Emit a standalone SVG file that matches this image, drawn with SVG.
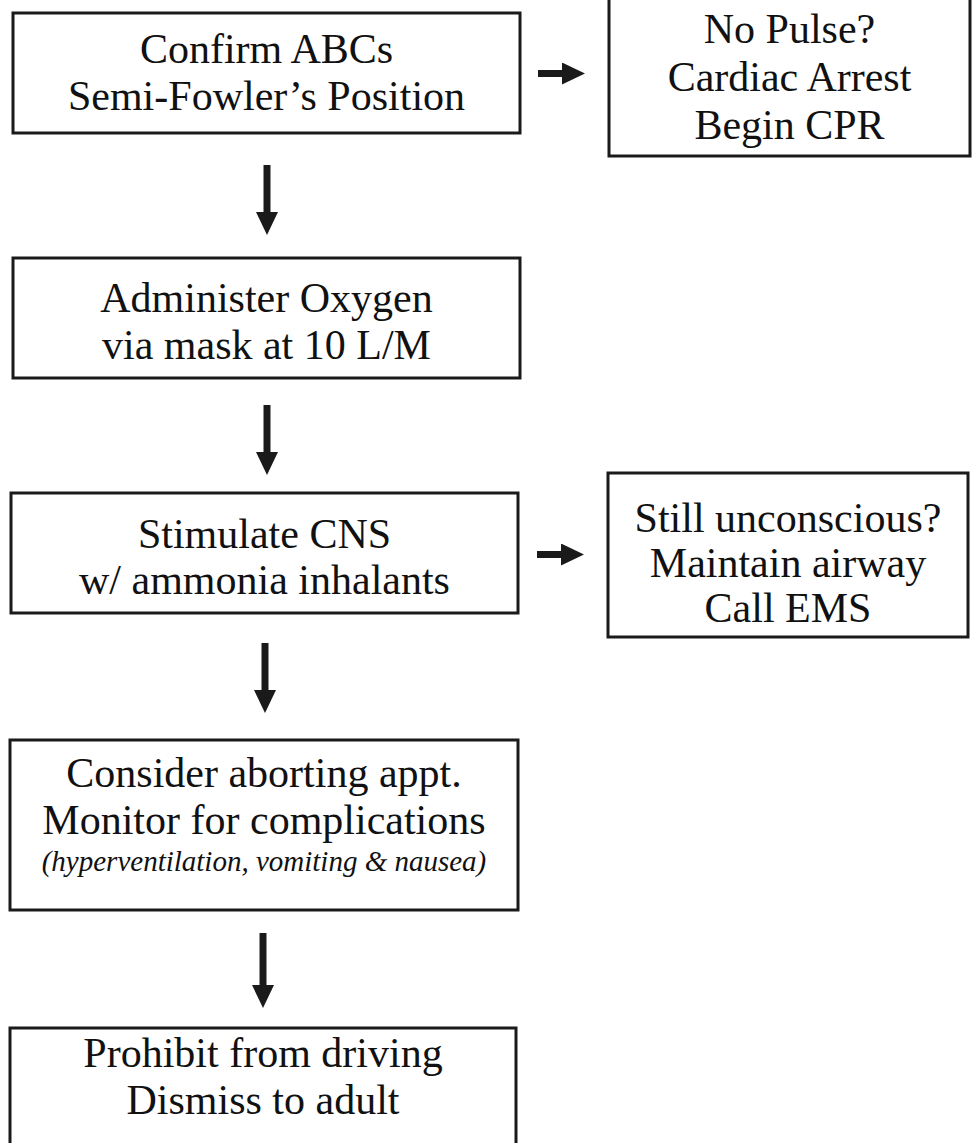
<svg xmlns="http://www.w3.org/2000/svg" width="974" height="1143" viewBox="0 0 974 1143">
<style>
.box{fill:#fff;stroke:#1a1a1a;stroke-width:3}
.t{font-family:'Liberation Serif',Tinos,'Times New Roman',Times,'DejaVu Serif',serif;font-size:42px;fill:#111;text-anchor:middle}
.it{font-family:'Liberation Serif',Tinos,'Times New Roman',Times,'DejaVu Serif',serif;font-size:29px;font-style:italic;fill:#111;text-anchor:middle}
.arr{stroke:#1a1a1a;stroke-width:7;fill:none;marker-end:url(#ah)}
</style>
<defs>
<marker id="ah" markerUnits="userSpaceOnUse" markerWidth="24" markerHeight="24" refX="3" refY="11" orient="auto">
<path d="M0,0 L23,11 L0,22 Z" fill="#1a1a1a"/>
</marker>
</defs>
<rect width="974" height="1143" fill="#fff"/>
<g id="n1">
<rect class="box" x="13" y="13" width="507" height="120"/>
<text class="t" x="266.5" y="63" font-family="Liberation Serif, serif">Confirm ABCs</text>
<text class="t" x="266.5" y="110" font-family="Liberation Serif, serif">Semi-Fowler’s Position</text>
</g>
<g id="n2">
<rect class="box" x="609" y="-3" width="361" height="159"/>
<text class="t" x="789.5" y="43">No Pulse?</text>
<text class="t" x="789.5" y="91">Cardiac Arrest</text>
<text class="t" x="789.5" y="139">Begin CPR</text>
</g>
<g id="n3">
<rect class="box" x="13" y="258" width="507" height="120"/>
<text class="t" x="266.5" y="312">Administer Oxygen</text>
<text class="t" x="266.5" y="359">via mask at 10 L/M</text>
</g>
<g id="n4">
<rect class="box" x="11" y="493" width="507" height="120"/>
<text class="t" x="264.5" y="548">Stimulate CNS</text>
<text class="t" x="264.5" y="594">w/ ammonia inhalants</text>
</g>
<g id="n5">
<rect class="box" x="608" y="473" width="360" height="164"/>
<text class="t" x="788" y="532">Still unconscious?</text>
<text class="t" x="788" y="577">Maintain airway</text>
<text class="t" x="788" y="622">Call EMS</text>
</g>
<g id="n6">
<rect class="box" x="10" y="740" width="508" height="170"/>
<text class="t" x="264" y="787">Consider aborting appt.</text>
<text class="t" x="264" y="834">Monitor for complications</text>
<text class="it" x="264" y="871">(hyperventilation, vomiting &amp; nausea)</text>
</g>
<g id="n7">
<rect class="box" x="10" y="1028" width="506" height="130"/>
<text class="t" x="263" y="1067">Prohibit from driving</text>
<text class="t" x="263" y="1114">Dismiss to adult</text>
</g>
<g id="connectors">
<line class="arr" x1="267" y1="165" x2="267" y2="215"/>
<line class="arr" x1="267" y1="405" x2="267" y2="455"/>
<line class="arr" x1="265" y1="643" x2="265" y2="693"/>
<line class="arr" x1="263" y1="933" x2="263" y2="988"/>
<line class="arr" x1="538" y1="73.5" x2="565" y2="73.5"/>
<line class="arr" x1="537" y1="554.5" x2="564" y2="554.5"/>
</g>
</svg>
